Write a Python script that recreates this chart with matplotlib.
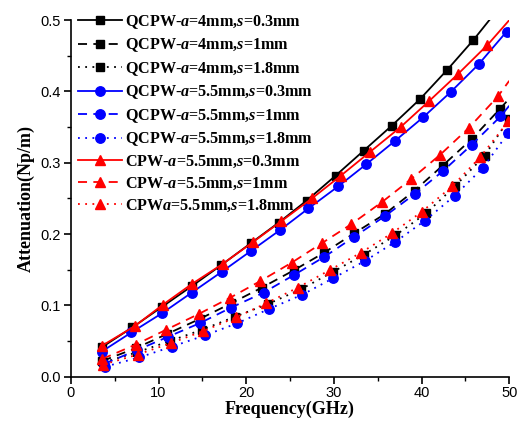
import matplotlib
matplotlib.use('Agg')
import matplotlib.pyplot as plt
from matplotlib.ticker import MultipleLocator

plt.rcParams['mathtext.fontset'] = 'custom'
plt.rcParams['mathtext.it'] = 'Liberation Serif:italic:bold'
plt.rcParams['mathtext.rm'] = 'Liberation Serif:bold'

# frequency (GHz) / attenuation (Np/m); last point of some series is the line end (no marker)
f_a4_s03 = [3.5, 7.0, 10.4, 13.8, 17.1, 20.5, 23.7, 26.9, 30.2, 33.4, 36.6, 39.8, 42.9, 45.9, 50.0]
v_a4_s03 = [0.041, 0.069, 0.098, 0.127, 0.156, 0.187, 0.216, 0.247, 0.282, 0.317, 0.352, 0.389, 0.430, 0.472, 0.535]
f_a4_s1 = [3.6, 7.4, 11.0, 14.7, 18.3, 21.8, 25.4, 28.9, 32.3, 35.8, 39.2, 42.4, 45.7, 48.9, 50.0]
v_a4_s1 = [0.022, 0.040, 0.060, 0.081, 0.103, 0.125, 0.149, 0.174, 0.201, 0.228, 0.261, 0.296, 0.333, 0.375, 0.390]
f_a4_s18 = [3.7, 7.5, 11.3, 15.0, 18.7, 22.5, 26.3, 29.9, 33.4, 37.0, 40.5, 43.8, 47.2, 50.0]
v_a4_s18 = [0.020, 0.034, 0.050, 0.066, 0.084, 0.102, 0.123, 0.147, 0.171, 0.198, 0.229, 0.267, 0.310, 0.362]

f_a55_s03 = [3.5, 6.9, 10.4, 13.8, 17.2, 20.5, 23.9, 27.1, 30.5, 33.7, 37.0, 40.2, 43.3, 46.5, 49.7, 50.0]
v_a55_s03 = [0.035, 0.062, 0.089, 0.118, 0.147, 0.176, 0.206, 0.236, 0.267, 0.298, 0.331, 0.364, 0.399, 0.438, 0.484, 0.489]
f_a55_s1 = [3.8, 7.5, 11.1, 14.7, 18.3, 22.0, 25.5, 28.9, 32.3, 35.8, 39.2, 42.5, 45.7, 49.0, 50.0]
v_a55_s1 = [0.018, 0.037, 0.056, 0.075, 0.097, 0.118, 0.143, 0.168, 0.196, 0.225, 0.256, 0.289, 0.325, 0.365, 0.380]
f_a55_s18 = [3.9, 7.8, 11.5, 15.3, 19.0, 22.6, 26.4, 29.9, 33.5, 37.0, 40.4, 43.8, 47.0, 49.9]
v_a55_s18 = [0.014, 0.027, 0.042, 0.058, 0.075, 0.095, 0.115, 0.138, 0.162, 0.189, 0.219, 0.254, 0.293, 0.342]

f_cpw_s03 = [3.5, 7.3, 10.5, 13.8, 17.3, 20.8, 24.0, 27.5, 30.8, 34.1, 37.6, 40.9, 44.2, 47.5, 50.0]
v_cpw_s03 = [0.043, 0.071, 0.101, 0.130, 0.158, 0.189, 0.218, 0.250, 0.282, 0.315, 0.350, 0.387, 0.425, 0.465, 0.500]
f_cpw_s1 = [3.6, 7.4, 10.9, 14.6, 18.2, 21.6, 25.2, 28.6, 32.0, 35.5, 38.8, 42.1, 45.4, 48.7, 50.0]
v_cpw_s1 = [0.025, 0.045, 0.066, 0.088, 0.111, 0.134, 0.160, 0.187, 0.214, 0.245, 0.277, 0.311, 0.349, 0.393, 0.415]
f_cpw_s18 = [3.7, 7.6, 11.4, 15.1, 18.8, 22.3, 25.9, 29.6, 33.1, 36.6, 40.0, 43.5, 46.7, 49.9]
v_cpw_s18 = [0.017, 0.031, 0.047, 0.064, 0.083, 0.103, 0.125, 0.150, 0.174, 0.201, 0.231, 0.267, 0.308, 0.358]

labels = ['QCPW-$a$=4mm,$s$=0.3mm', 'QCPW-$a$=4mm,$s$=1mm', 'QCPW-$a$=4mm,$s$=1.8mm',
          'QCPW-$a$=5.5mm,$s$=0.3mm', 'QCPW-$a$=5.5mm,$s$=1mm', 'QCPW-$a$=5.5mm,$s$=1.8mm',
          'CPW-$a$=5.5mm,$s$=0.3mm', 'CPW-$a$=5.5mm,$s$=1mm', 'CPW$a$=5.5mm,$s$=1.8mm']

series = [(f_a4_s03, v_a4_s03), (f_a4_s1, v_a4_s1), (f_a4_s18, v_a4_s18),
          (f_a55_s03, v_a55_s03), (f_a55_s1, v_a55_s1), (f_a55_s18, v_a55_s18),
          (f_cpw_s03, v_cpw_s03), (f_cpw_s1, v_cpw_s1), (f_cpw_s18, v_cpw_s18)]
# last point is a marker only for these
all_marked = [False, False, True, False, False, True, False, False, True]

colors = ['black'] * 3 + ['#0000ff'] * 3 + ['#ff0000'] * 3
markers = ['s'] * 3 + ['o'] * 3 + ['^'] * 3
msizes = [6.2] * 3 + [6.8] * 3 + [7.2] * 3
dashes = [(None, None), (0, (5, 3.5)), (0, (1, 3))] * 3

fig = plt.figure(figsize=(5.25, 4.29), dpi=100)
ax = fig.add_axes([0.135, 0.122, 0.835, 0.831])

for i, (f, v) in enumerate(series):
    n = len(f) if all_marked[i] else len(f) - 1
    ls = '-' if dashes[i][0] is None else dashes[i]
    ax.plot(f, v, color=colors[i], linestyle=ls, lw=1.3, marker=markers[i],
            ms=msizes[i], markevery=list(range(n)), label=labels[i])

ax.set_xlim(0, 50)
ax.set_ylim(0, 0.5)
ax.xaxis.set_major_locator(MultipleLocator(10))
ax.xaxis.set_minor_locator(MultipleLocator(5))
ax.yaxis.set_major_locator(MultipleLocator(0.1))
ax.yaxis.set_minor_locator(MultipleLocator(0.05))
ax.yaxis.set_major_formatter(plt.FormatStrFormatter('%.1f'))
ax.spines['top'].set_visible(False)
ax.spines['right'].set_visible(False)
for s in ['left', 'bottom']:
    ax.spines[s].set_linewidth(1.2)
ax.tick_params(which='major', direction='out', length=5, width=1.2, pad=2,
               labelsize=10.5, labelfontfamily='Liberation Sans')
ax.tick_params(which='minor', direction='out', length=3, width=1.0)

ax.set_xlabel('Frequency(GHz)', fontfamily='Liberation Serif', fontweight='bold',
              fontsize=13, labelpad=0.5)
ax.set_ylabel('Attenuation(Np/m)', fontfamily='Liberation Serif', fontweight='bold', fontsize=13)

ax.legend(loc='upper left', bbox_to_anchor=(-0.005, 1.047), frameon=False,
          prop={'family': 'Liberation Serif', 'weight': 'bold', 'size': 11.6},
          handlelength=2.7, labelspacing=0.35, handletextpad=0.2, borderaxespad=0.2)

fig.savefig('out.png', dpi=100)
